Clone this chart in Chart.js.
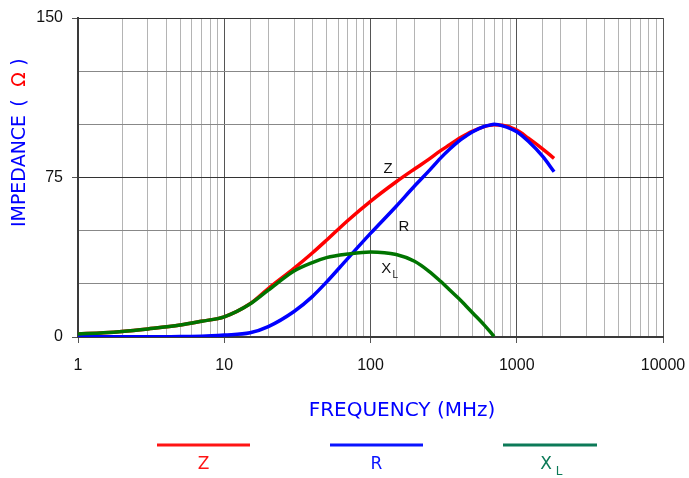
<!DOCTYPE html>
<html>
<head>
<meta charset="utf-8">
<script src="https://cdn.jsdelivr.net/npm/chart.js@4.4.1/dist/chart.umd.min.js"></script>
<style>
  html, body { margin: 0; padding: 0; background: #fff; }
  #wrap { width: 689px; height: 478px; }
</style>
</head>
<body>
<div id="wrap"><canvas id="impedanceChart" width="689" height="478"></canvas></div>
<script>
// === DATA ===
const freqMHz = [1, 1.5, 2, 3, 5, 7, 10, 15, 20, 30, 40, 50, 70, 100, 150, 200, 250, 300, 350, 400, 450, 500, 600, 650, 700, 800, 1000, 1200, 1500, 1800];
const zValues = [1.4, 2.0, 2.6, 3.8, 5.6, 7.4, 9.5, 15.6, 22.8, 32.3, 39.5, 45.5, 54.8, 63.8, 73, 79, 83.5, 87.5, 90.5, 93.2, 95.2, 96.8, 98.9, 99.5, 99.8, 99.6, 97.3, 93.5, 88.5, 84];
const rValues = [0.1, 0.1, 0.1, 0.1, 0.2, 0.3, 0.9, 2.0, 4.9, 12.0, 19.0, 25.8, 37, 48.7, 61.5, 71, 78, 84, 88.5, 92, 94.5, 96.5, 99, 99.6, 100, 99.3, 96.5, 92, 85, 77.7];
const xlValues = [1.4, 2.0, 2.6, 3.8, 5.6, 7.4, 9.5, 15.5, 22, 31, 35, 37.3, 39, 40, 38.8, 35.6, 31, 26.3, 22, 18.2, 14.6, 11.3, 5.6, 2.9, 0.3, null, null, null, null, null];

const xTickLabels = [1, 10, 100, 1000, 10000];
const yTickLabels = [0, 75, 150];

// === HELPERS ===
function toPoints(values) {
  const pts = [];
  values.forEach((v, i) => { if (v !== null) pts.push({ x: freqMHz[i], y: v }); });
  return pts;
}
function isDecade(v) {
  return xTickLabels.includes(v);
}

// === PLUGIN: titles, inline labels, legend ===
const decorations = {
  id: "decorations",
  afterDraw(chart) {
    const ctx = chart.ctx;
    const xs = chart.scales.x;
    const ys = chart.scales.y;
    ctx.save();

    // x axis title
    ctx.font = "20px 'DejaVu Sans'";
    ctx.fillStyle = "#0000ff";
    ctx.textAlign = "center";
    ctx.textBaseline = "middle";
    ctx.fillText("FREQUENCY (MHz)", 402, 411);

    // y axis title (blue text, red omega)
    ctx.save();
    ctx.translate(20, 0);
    ctx.rotate(-Math.PI / 2);
    ctx.font = "19px 'DejaVu Sans'";
    ctx.fillStyle = "#0000ff";
    ctx.fillText("IMPEDANCE", -171, 0);
    ctx.fillText("(", -103, 0);
    ctx.fillText(")", -62, 0);
    ctx.fillStyle = "#ff0000";
    ctx.fillText("\u03A9", -79.5, 0);
    ctx.restore();

    // inline curve labels
    ctx.font = "15px 'Liberation Sans', Arial";
    ctx.fillStyle = "#111";
    ctx.textAlign = "center";
    ctx.fillText("Z", xs.getPixelForValue(132), ys.getPixelForValue(79));
    ctx.fillText("R", xs.getPixelForValue(169), ys.getPixelForValue(52));
    const xlX = xs.getPixelForValue(128);
    const xlY = ys.getPixelForValue(32);
    ctx.fillText("X", xlX, xlY);
    ctx.font = "10px 'Liberation Sans', Arial";
    ctx.fillText("L", xlX + 9, xlY + 6);

    // legend
    const legend = [
      { text: "Z", color: "#ff1414", x0: 157, x1: 250 },
      { text: "R", color: "#0a14ff", x0: 330, x1: 423 },
      { text: "X", sub: "L", color: "#0c7a58", x0: 503, x1: 597 }
    ];
    legend.forEach(item => {
      ctx.strokeStyle = item.color;
      ctx.lineWidth = 3;
      ctx.beginPath();
      ctx.moveTo(item.x0, 445);
      ctx.lineTo(item.x1, 445);
      ctx.stroke();
      ctx.fillStyle = item.color;
      ctx.font = "17px 'DejaVu Sans'";
      ctx.textAlign = "center";
      const cx = (item.x0 + item.x1) / 2;
      if (item.sub) {
        ctx.fillText(item.text, cx - 4, 465);
        ctx.font = "12px 'DejaVu Sans'";
        ctx.fillText(item.sub, cx + 9, 472);
      } else {
        ctx.fillText(item.text, cx, 465);
      }
    });

    ctx.restore();
  }
};

// === CHART ===
const ctx = document.getElementById("impedanceChart").getContext("2d");
new Chart(ctx, {
  type: "scatter",
  data: {
    datasets: [
      { label: "XL", data: toPoints(xlValues), borderColor: "#007400", borderWidth: 3.5, order: 0 },
      { label: "R", data: toPoints(rValues), borderColor: "#0000ff", borderWidth: 3.5, order: 1 },
      { label: "Z", data: toPoints(zValues), borderColor: "#ff0000", borderWidth: 3.5, order: 2 }
    ]
  },
  options: {
    responsive: false,
    animation: false,
    showLine: true,
    elements: {
      point: { radius: 0, hoverRadius: 0 },
      line: { cubicInterpolationMode: "monotone", fill: false }
    },
    layout: { padding: { top: 18, right: 26, left: 0, bottom: 0 } },
    plugins: {
      legend: { display: false },
      tooltip: { enabled: false }
    },
    scales: {
      x: {
        type: "logarithmic",
        min: 1,
        max: 10000,
        afterFit: (scale) => {
          scale.height = 141;
          scale.paddingLeft = 0;
          scale.paddingRight = 0;
        },
        border: { display: true, color: "#3a3a3a", width: 2 },
        grid: {
          color: (c) => (c.tick && isDecade(c.tick.value) ? "#555555" : "#b4b4b4"),
          tickColor: (c) => (c.tick && isDecade(c.tick.value) ? "#555555" : "rgba(0,0,0,0)"),
          tickLength: 6,
          lineWidth: 1
        },
        ticks: {
          autoSkip: false,
          maxRotation: 0,
          padding: 13,
          color: "#111",
          font: { family: "'Liberation Sans', Arial", size: 16 },
          callback: (value) => (isDecade(value) ? String(value) : "")
        }
      },
      y: {
        type: "linear",
        min: 0,
        max: 150,
        afterFit: (scale) => {
          scale.width = 78;
          scale.paddingTop = 0;
          scale.paddingBottom = 0;
        },
        border: { display: true, color: "#3a3a3a", width: 2 },
        grid: {
          color: (c) => (c.tick && yTickLabels.includes(c.tick.value) ? "#333333" : "#888888"),
          tickColor: (c) => (c.tick && yTickLabels.includes(c.tick.value) ? "#555555" : "rgba(0,0,0,0)"),
          tickLength: 6,
          lineWidth: 1
        },
        ticks: {
          stepSize: 25,
          padding: 9,
          color: "#111",
          font: { family: "'Liberation Sans', Arial", size: 16 },
          callback: (value) => (yTickLabels.includes(value) ? String(value) : "")
        }
      }
    }
  },
  plugins: [decorations]
});
</script>
</body>
</html>
